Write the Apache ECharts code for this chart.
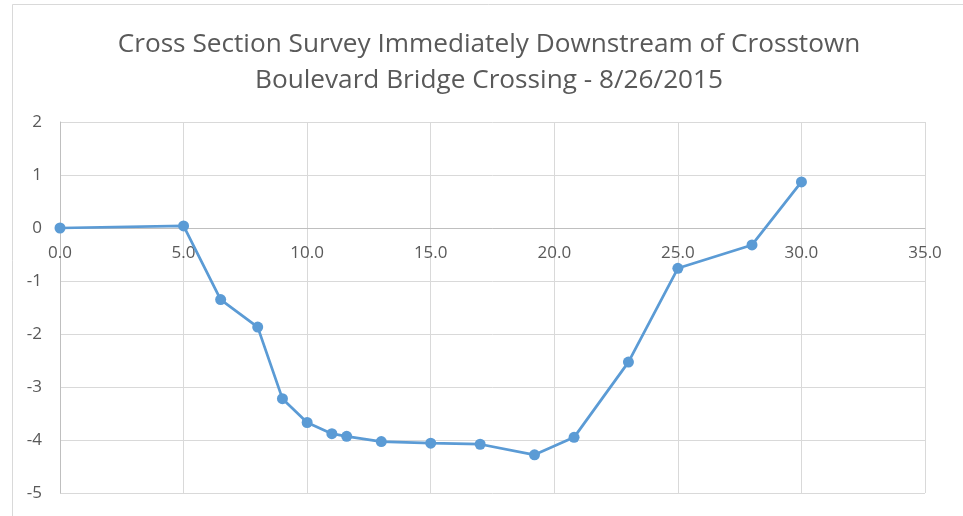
<!DOCTYPE html>
<html>
<head>
<meta charset="utf-8">
<script src="https://cdn.jsdelivr.net/npm/echarts@6/dist/echarts.min.js"></script>
<style>
html,body{margin:0;padding:0;background:#fff;}
#chart{width:963px;height:516px;}
</style>
</head>
<body>
<div id="chart"></div>
<script>
const titleLines = ["Cross Section Survey Immediately Downstream of Crosstown", "Boulevard Bridge Crossing - 8/26/2015"];
const stations = [0, 5, 6.5, 8, 9, 10, 11, 11.6, 13, 15, 17, 19.2, 20.8, 23, 25, 28, 30];
const elevations = [0, 0.04, -1.35, -1.87, -3.22, -3.67, -3.88, -3.93, -4.03, -4.06, -4.08, -4.28, -3.95, -2.53, -0.76, -0.32, 0.87];
const xTicks = {min: 0, max: 35, interval: 5};
const yTicks = {min: -5, max: 2, interval: 1};

const chart = echarts.init(document.getElementById('chart'), null, {renderer: 'canvas'});
chart.setOption({
  animation: false,
  backgroundColor: '#ffffff',
  graphic: [{
    type: 'rect',
    shape: {x: 12.5, y: 4.5, width: 1000, height: 600},
    style: {fill: 'none', stroke: '#d9d9d9', lineWidth: 1},
    silent: true
  }],
  title: {
    text: titleLines.join('\n'),
    left: 484,
    textAlign: 'center',
    top: 21,
    textStyle: {
      fontFamily: 'Open Sans',
      fontWeight: 'normal',
      fontSize: 26.2,
      color: '#595959',
      lineHeight: 36.5
    }
  },
  grid: {left: 60, right: 38, top: 122, bottom: 23, containLabel: false, outerBoundsMode: 'none'},
  xAxis: {
    type: 'value',
    min: xTicks.min, max: xTicks.max, interval: xTicks.interval,
    axisLine: {show: true, onZero: false, lineStyle: {color: '#bfbfbf', width: 1}},
    axisTick: {show: false},
    axisLabel: {
      formatter: v => v.toFixed(1),
      fontFamily: 'Open Sans', fontSize: 17, color: '#595959', margin: 17
    },
    splitLine: {show: true, lineStyle: {color: '#d9d9d9', width: 1}}
  },
  yAxis: {
    type: 'value',
    min: yTicks.min, max: yTicks.max, interval: yTicks.interval,
    axisLine: {show: true, onZero: false, lineStyle: {color: '#bfbfbf', width: 1}},
    axisTick: {show: false},
    axisLabel: {
      fontFamily: 'Open Sans', fontSize: 17, color: '#595959', margin: 18
    },
    splitLine: {show: true, lineStyle: {color: '#d9d9d9', width: 1}}
  },
  series: [{
    type: 'line',
    data: stations.map((x, i) => [x, elevations[i]]),
    symbol: 'circle',
    symbolSize: 11,
    showAllSymbol: true,
    lineStyle: {color: '#5b9bd5', width: 2.75},
    itemStyle: {color: '#5b9bd5'},
    z: 3
  }]
});
// Place the x axis on the y = 0 line using the library's own scale.
const zeroPx = chart.convertToPixel({yAxisIndex: 0}, 0);
const bottomPx = chart.convertToPixel({yAxisIndex: 0}, yTicks.min);
chart.setOption({xAxis: {offset: zeroPx - bottomPx}});
</script>
</body>
</html>
